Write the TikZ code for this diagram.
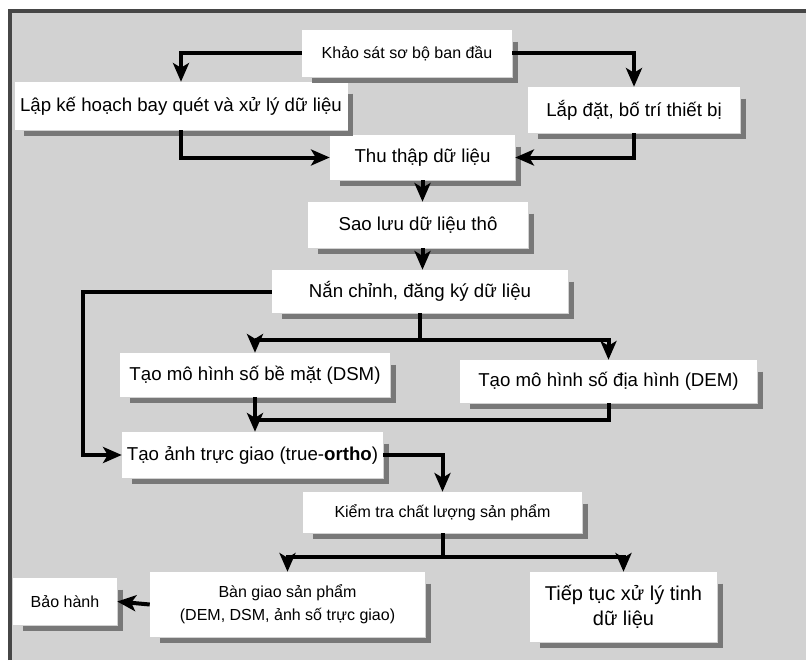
\documentclass[tikz,border=0pt]{standalone}
\usepackage{fontspec}
\setmainfont{Liberation Sans}
\usepackage{tikz}
\usetikzlibrary{calc, arrows.meta}
\definecolor{paper}{RGB}{210,210,210}
\definecolor{shadowgrey}{RGB}{120,120,120}
\definecolor{rim}{RGB}{70,70,70}

\begin{document}
\begin{tikzpicture}[x=0.75pt,y=-0.75pt]
\tikzstyle{stepbox}=[fill=white,inner sep=0pt,align=center,font=\fontsize{14}{17}\selectfont]
\tikzstyle{small}=[font=\fontsize{12}{17}\selectfont]
\tikzstyle{link}=[line width=3pt,-{Stealth[length=14pt,width=12pt,inset=3.5pt]}]
\tikzstyle{bar}=[line width=3pt]
\tikzstyle{boxshade}=[draw=shadowgrey,line width=3.5pt]
\useasboundingbox (0,0) rectangle (806,660);
\fill[paper] (10,11) rectangle (806,660);
\draw[rim,line width=3pt] (10,660) -- (10,11) -- (806,11);
\node[stepbox,small,minimum width=157.5pt,minimum height=35.25pt] (S_0) at (407,53.5) {Khảo sát sơ bộ ban đầu};
\node[stepbox,minimum width=249.75pt,minimum height=36pt] (S_1) at (181,106) {Lập kế hoạch bay quét và xử lý dữ liệu};
\node[stepbox,minimum width=159pt,minimum height=34.5pt] (S_2) at (634,110) {Lắp đặt, bố trí thiết bị};
\node[stepbox,minimum width=138.75pt,minimum height=33.75pt] (S_3) at (422.5,157.5) {Thu thập dữ liệu};
\node[stepbox,minimum width=165pt,minimum height=34.5pt] (S_4) at (418,225) {Sao lưu dữ liệu thô};
\node[stepbox,minimum width=222pt,minimum height=32.25pt] (S_5) at (420,291.5) {Nắn chỉnh, đăng ký dữ liệu};
\node[stepbox,minimum width=202.5pt,minimum height=33pt] (S_6) at (255,375) {Tạo mô hình số bề mặt (DSM)};
\node[stepbox,minimum width=222.75pt,minimum height=32.25pt] (S_7) at (608.5,381.5) {Tạo mô hình số địa hình (DEM)};
\node[stepbox,minimum width=195.75pt,minimum height=34.5pt] (S_8) at (252.5,455) {Tạo ảnh trực giao (true-\textbf{ortho})};
\node[stepbox,small,minimum width=209.25pt,minimum height=30.75pt] (S_9) at (442.5,512.5) {Kiểm tra chất lượng sản phẩm};
\node[stepbox,small,minimum width=206.25pt,minimum height=48.75pt] (S_10) at (287.5,604.5) {Bàn giao sản phẩm\\(DEM, DSM, ảnh số trực giao)};
\node[stepbox,font=\fontsize{15}{19}\selectfont,minimum width=140.25pt,minimum height=52.5pt] (S_11) at (623.5,607) {Tiếp tục xử lý tinh\\dữ liệu};
\node[stepbox,small,minimum width=78pt,minimum height=35.25pt] (S_12) at (65,601.5) {Bảo hành};
\foreach \n in {S_0,S_1,S_2,S_3,S_4,S_5,S_6,S_7,S_8,S_9,S_10,S_11,S_12}
  \draw[boxshade] ([shift={(3,12)}]\n.north east) -- ([shift={(3,3)}]\n.south east) -- ([shift={(10,3)}]\n.south west);
\coordinate (T_0) at (83,0);
\coordinate (T_1) at (420,340);
\coordinate (T_2) at (0,420);
\coordinate (T_3) at (442.5,557);
\draw[link] (S_0.west) -| (S_1.north);
\draw[link] (S_0.east) -| (S_2.north);
\draw[link] (S_1.south) |- (S_3.west);
\draw[link] (S_2.south) |- (S_3.east);
\draw[link] (S_3.south) -- (S_3.south |- S_4.north);
\draw[link] (S_3.south |- S_4.south) -- (S_3.south |- S_5.north);
\draw[link] (S_5.west) -| (T_0 |- S_8.west) -- (S_8.west);
\draw[bar] (S_5.south) -- (T_1);
\draw[link] (T_1) -| (S_6.north);
\draw[link] (T_1) -| (S_7.north);
\draw[link] (S_6.south) -- (S_6.south |- S_8.north);
\draw[bar] (S_7.south) |- (S_6.south |- T_2);
\draw[link] (S_8.east) -| (S_9.north);
\draw[bar] (S_9.south) -- (T_3);
\draw[link] (T_3) -| (S_10.north);
\draw[link] (T_3) -| (S_11.north);
\draw[link] (S_10.west) -- (S_12.east);
\end{tikzpicture}
\end{document}
